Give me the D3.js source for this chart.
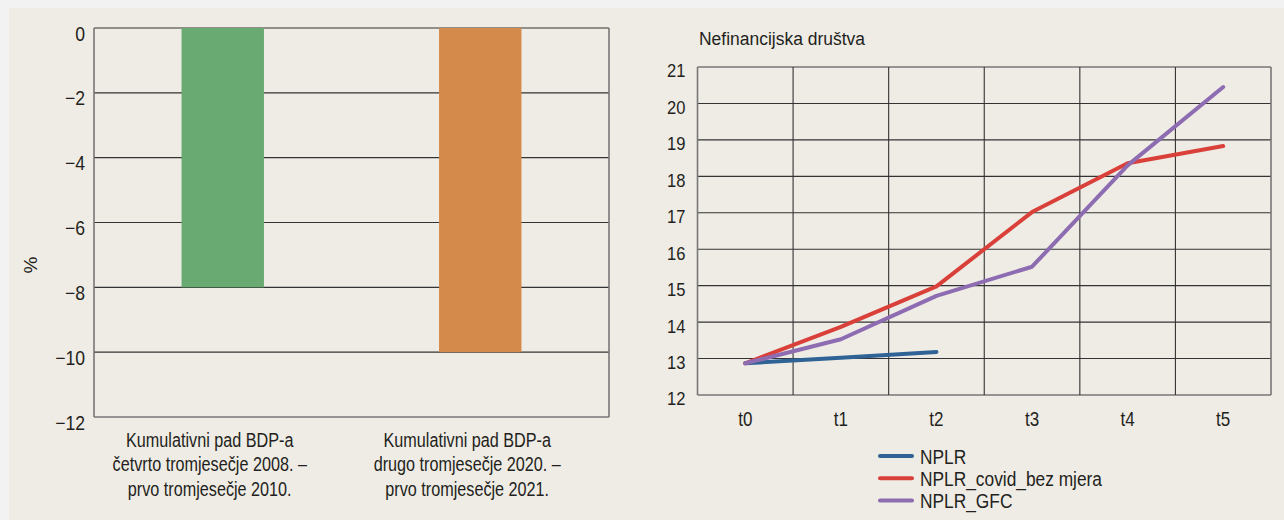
<!DOCTYPE html>
<html>
<head>
<meta charset="utf-8">
<script src="https://cdn.jsdelivr.net/npm/d3@7"></script>
<style>
  body { margin: 0; background: #f2f2f2; }
  svg { display: block; }
  text { font-family: 'Liberation Sans', Arial, sans-serif; fill: #231f20; }
</style>
</head>
<body>
<svg></svg>
<script>
// left panel: cumulative GDP fall
const barCategories = [
  ['Kumulativni pad BDP-a', 'četvrto tromjesečje 2008. –', 'prvo tromjesečje 2010.'],
  ['Kumulativni pad BDP-a', 'drugo tromjesečje 2020. –', 'prvo tromjesečje 2021.']
]
const barValues = [-8, -10]
const barColors = ['#69aa72', '#d38a4a']
const barTicks = [0, -2, -4, -6, -8, -10, -12]

// right panel: NPL ratio, non-financial corporations
const lineTitle = 'Nefinancijska društva'
const periods = ['t0', 't1', 't2', 't3', 't4', 't5']
const nplr = [12.87, 13.02, 13.18]
const nplrCovid = [12.87, 13.87, 14.98, 17.02, 18.36, 18.83]
const nplrGfc = [12.87, 13.53, 14.72, 15.52, 18.3, 20.45]
const lineTicks = [12, 13, 14, 15, 16, 17, 18, 19, 20, 21]
const seriesNames = ['NPLR', 'NPLR_covid_bez mjera', 'NPLR_GFC']
const seriesColors = ['#2f6396', '#da403a', '#8d6cb2']

window.onload = () => {
  const width = 1284
  const height = 520

  const svg = d3.select('svg')
    .attr('width', width)
    .attr('height', height)
    .attr('viewBox', [0, 0, width, height])

  // no condensed font installed, so squeeze the text horizontally
  function narrow(sel, k) {
    sel.each(function () {
      const t = d3.select(this)
      const x = +t.attr('x') || 0
      t.attr('x', x / k).attr('transform', `scale(${k},1)`)
    })
  }

  // panel background
  svg.append('rect')
    .attr('x', 9).attr('y', 8)
    .attr('width', width - 9).attr('height', height - 8)
    .attr('fill', '#efece5')

  const gridColor = '#333'
  const frameColor = '#777'

  // ---- bar chart ----
  function drawBars() {
    const left = 94, right = 609, top = 28, bottom = 417

    const y = d3.scaleLinear().domain([0, -12]).range([top, bottom])
    const x = d3.scaleBand().domain(d3.range(barValues.length)).range([left, right]).paddingInner(0.68).paddingOuter(0.34)

    svg.append('g')
      .selectAll('line')
      .data(barTicks)
      .join('line')
      .attr('x1', left).attr('x2', right)
      .attr('y1', d => y(d)).attr('y2', d => y(d))
      .attr('stroke', (d, i) => i === barTicks.length - 1 ? frameColor : gridColor)
      .attr('stroke-width', (d, i) => i === barTicks.length - 1 ? 1.6 : 1.1)

    svg.append('g')
      .selectAll('line')
      .data([left, right])
      .join('line')
      .attr('x1', d => d).attr('x2', d => d)
      .attr('y1', top).attr('y2', bottom)
      .attr('stroke', frameColor)
      .attr('stroke-width', 1.6)

    svg.append('g')
      .selectAll('rect')
      .data(barValues)
      .join('rect')
      .attr('x', (d, i) => x(i))
      .attr('y', y(0))
      .attr('width', x.bandwidth())
      .attr('height', d => y(d) - y(0))
      .attr('fill', (d, i) => barColors[i])

    const axis = d3.axisLeft(y).tickValues(barTicks).tickSize(0).tickPadding(9).tickFormat(d3.format('d'))
    svg.append('g')
      .attr('transform', `translate(${left},0)`)
      .call(axis)
      .call(g => g.select('.domain').remove())
      .call(g => g.selectAll('text').attr('font-size', 20).attr('dy', '0.6em').style('font-family', null).attr('fill', null).call(narrow, 0.88))

    svg.append('text')
      .text('%')
      .attr('transform', 'translate(37,265) rotate(-90)')
      .attr('text-anchor', 'middle')
      .attr('font-size', 19)

    const labels = svg.append('g')
      .selectAll('text')
      .data(barCategories)
      .join('text')
      .attr('text-anchor', 'middle')
      .attr('font-size', 20)
      .attr('y', 447)
      .attr('transform', 'scale(0.81,1)')
    labels.selectAll('tspan')
      .data((d, i) => d.map(t => ({ t, i })))
      .join('tspan')
      .attr('x', d => (x(d.i) + x.bandwidth() / 2 - 13) / 0.81)
      .attr('dy', (d, j) => j === 0 ? 0 : 24.5)
      .text(d => d.t)
  }

  // ---- line chart ----
  function drawLines() {
    const left = 697.5, right = 1271, top = 67, bottom = 395

    const y = d3.scaleLinear().domain([12, 21]).range([bottom, top])
    const x = d3.scaleBand().domain(periods).range([left, right])
    const cx = p => x(p) + x.bandwidth() / 2

    svg.append('text')
      .text(lineTitle)
      .attr('x', 699).attr('y', 45)
      .attr('font-size', 19)
      .call(narrow, 0.92)

    svg.append('g')
      .selectAll('line')
      .data(lineTicks)
      .join('line')
      .attr('x1', left).attr('x2', right)
      .attr('y1', d => y(d)).attr('y2', d => y(d))
      .attr('stroke', (d, i) => (i === 0 || i === lineTicks.length - 1) ? frameColor : gridColor)
      .attr('stroke-width', (d, i) => (i === 0 || i === lineTicks.length - 1) ? 1.6 : 1.1)

    svg.append('g')
      .selectAll('line')
      .data(periods)
      .join('line')
      .attr('x1', d => x(d) + x.bandwidth()).attr('x2', d => x(d) + x.bandwidth())
      .attr('y1', top).attr('y2', bottom)
      .attr('stroke', (d, i) => i === periods.length - 1 ? frameColor : gridColor)
      .attr('stroke-width', (d, i) => i === periods.length - 1 ? 1.6 : 1.1)

    svg.append('line')
      .attr('x1', left).attr('x2', left)
      .attr('y1', top).attr('y2', bottom)
      .attr('stroke', frameColor)
      .attr('stroke-width', 1.6)

    const axisY = d3.axisLeft(y).tickValues(lineTicks).tickSize(0).tickPadding(12)
    svg.append('g')
      .attr('transform', `translate(${left},0)`)
      .call(axisY)
      .call(g => g.select('.domain').remove())
      .call(g => g.selectAll('text').attr('font-size', 18).attr('dy', '0.55em').style('font-family', null).attr('fill', null).call(narrow, 0.92))

    const axisX = d3.axisBottom(x).tickSize(0).tickPadding(17)
    svg.append('g')
      .attr('transform', `translate(0,${bottom})`)
      .call(axisX)
      .call(g => g.select('.domain').remove())
      .call(g => g.selectAll('text').attr('font-size', 20).style('font-family', null).attr('fill', null).call(narrow, 0.85))

    const series = [nplr, nplrCovid, nplrGfc]
    const line = d3.line()
      .x((d, i) => cx(periods[i]))
      .y(d => y(d))

    svg.append('g')
      .selectAll('path')
      .data(series)
      .join('path')
      .attr('d', line)
      .attr('fill', 'none')
      .attr('stroke', (d, i) => seriesColors[i])
      .attr('stroke-width', 4)
      .attr('stroke-linecap', 'round')
      .attr('stroke-linejoin', 'round')

    // legend
    const legend = svg.append('g')
      .selectAll('g')
      .data(seriesNames)
      .join('g')
      .attr('transform', (d, i) => `translate(880,${456 + i * 22.2})`)
    legend.append('line')
      .attr('x1', 0).attr('x2', 32)
      .attr('stroke', (d, i) => seriesColors[i])
      .attr('stroke-width', 4)
      .attr('stroke-linecap', 'round')
    legend.append('text')
      .text(d => d)
      .attr('x', 40)
      .attr('y', 8)
      .attr('font-size', 21)
      .call(narrow, 0.825)
  }

  drawBars()
  drawLines()
}
</script>
</body>
</html>
